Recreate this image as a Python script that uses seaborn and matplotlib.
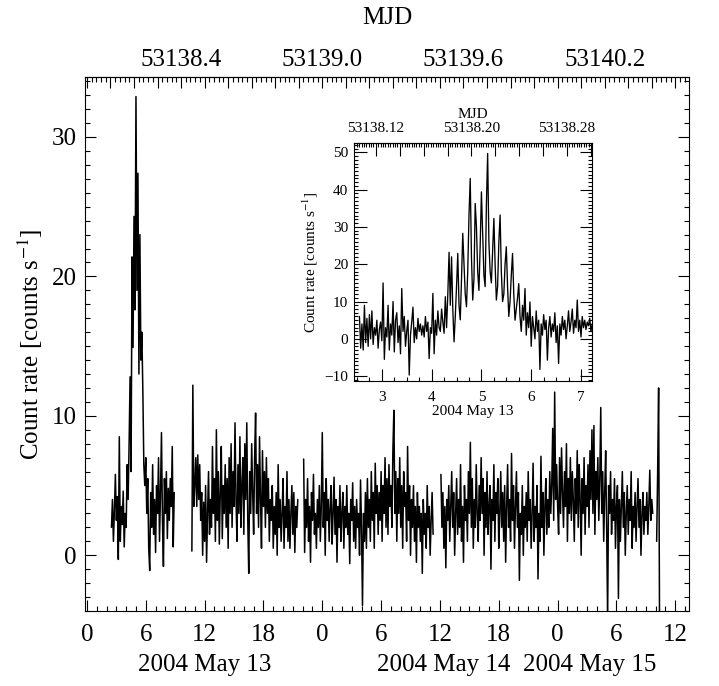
import numpy as np
import pandas as pd
import matplotlib
matplotlib.use("Agg")
import matplotlib.pyplot as plt
import seaborn as sns
from matplotlib.ticker import MultipleLocator, FuncFormatter

# ---------------- data (hours since 2004 May 13 00:00 UT) ----------------
MJD0 = 53138.0
STEP_MAIN = 0.1

seg_starts = [2.5, 10.7, 22.1, 36.1, 58.1]

seg1_rate = [2.0, 4.0, 1.0, 3.2, 5.8, 2.5, 4.2, -0.3, 8.5, 1.0,
             3.5, 2.2, 4.6, 0.6, 3.0, 2.0, 6.5, 4.0, 8.0, 12.8,
             6.0, 21.4, 14.9, 24.3, 17.6, 32.9, 19.0, 27.4, 13.0, 23.0,
             14.0, 16.0, 11.8, 6.5, 5.0, 7.0, 3.0, 5.5, 0.5, -1.1,
             4.5, 2.0, 6.5, 1.5, 4.0, 0.2, 5.0, 3.0, 7.0, 1.0,
             4.5, 8.8, 2.5, -0.8, 5.5, 3.0, 6.0, 1.2, 4.8, 2.5,
             5.5, 3.5, 7.8, 0.6, 4.5]

seg2_rate = [0.3, 12.2, 3.5, 5.0, 7.0, 3.5, 7.2, 4.0, 6.5, 2.5,
             4.5, 0.0, 3.8, 1.0, 5.0, -0.5, 3.0, 6.0, 1.5, 4.0,
             2.0, 7.8, 3.0, 5.5, 1.0, 9.0, 2.5, 6.0, 0.8, 4.5,
             7.8, 1.2, 5.0, 3.0, 6.5, 2.0, 5.5, 0.5, 7.0, 3.0,
             8.0, 2.0, 6.0, 3.5, 9.5, 4.0, 1.0, 6.5, 3.0, 8.5,
             2.0, 5.0, 7.0, 1.5, 8.0, 4.0, 9.5, 2.5, -1.3, 6.0,
             3.0, 8.0, 4.5, 1.5, 7.0, 10.2, 3.0, 6.5, 2.0, 8.5,
             4.0, 0.5, 7.5, 3.5, 6.0, 2.0, 7.0, 3.0, 5.5, 1.0,
             4.0, 2.5, 5.0, 0.5, 3.5, 1.5, 4.5, 0.0, 6.5, 2.0,
             4.0, 1.0, 3.0, 5.5, 0.5, 3.5, 2.0, 6.0, 1.0, 4.0,
             0.5, 3.0, 5.0, 1.5, 4.5, 0.2, 3.5, 2.0, 4.0]

seg3_rate = [6.9, 0.2, 4.0, 2.0, 5.5, 1.0, 3.5, -0.5, 4.5, 2.5,
             5.8, 1.5, 3.0, 0.5, 4.0, 2.0, 5.0, 1.0, 3.5, 8.8,
             2.0, 4.5, 0.0, 5.5, 2.5, 4.0, 1.0, 3.5, 5.0, 0.8,
             3.0, 5.6, 1.5, 4.0, -0.5, 3.5, 2.0, 5.0, 1.0, 3.0,
             4.5, 0.5, 3.5, 2.0, 5.0, 1.5, 3.0, -0.6, 4.0, 2.5,
             5.2, 1.0, 3.5, 0.5, 4.0, 2.0, 3.0, 0.0, 5.4, 2.0,
             -3.6, 3.0, 1.0, 4.5, 0.5, 5.5, 2.0, 4.0, 1.0, 6.0,
             2.5, 4.5, 0.5, 6.6, 3.0, 5.0, 1.5, 4.5, 2.5, 6.0,
             1.0, 5.0, 3.0, 7.0, 2.0, 5.5, 1.5, 6.5, 3.5, 5.0,
             2.0, 7.5, 10.4, 3.0, 6.0, 1.0, 5.5, 3.0, 7.0, 2.0,
             5.0, 0.5, 6.0, 3.5, 4.5, 1.0, 7.8, 2.5, 5.0, 0.0,
             4.0, 2.0, 5.0, 1.0, 3.5, -0.5, 4.5, 2.0, 3.5, 1.0,
             3.0, -1.3, 4.0, 1.5, 3.0, 0.5, 5.0, 2.0, 3.5, 0.0,
             2.5, 4.5, 1.5]

seg4_rate = [5.8, 2.0, 4.5, 0.5, 3.5, -0.9, 4.0, 2.5, 5.0, 1.0,
             3.5, 6.0, 2.0, 4.5, 0.0, 3.0, 5.5, 1.5, 4.0, 2.0,
             6.5, 1.0, 3.5, -0.5, 5.0, 2.5, 4.0, 1.0, 6.0, 3.0,
             8.1, 2.0, 5.5, 0.5, 4.0, 2.0, 6.5, 3.0, 1.0, 5.0,
             2.5, 7.0, 3.0, 5.5, 0.0, 4.5, 2.0, 6.0, 1.5, 3.5,
             5.0, -1.0, 4.0, 2.5, 6.5, 1.0, 4.5, 3.0, 5.5, 0.5,
             3.0, 6.0, 2.0, 4.5, 1.0, 5.0, -0.5, 3.5, 6.5, 2.0,
             4.0, 1.0, 7.3, 2.5, 5.0, 0.5, 3.5, 6.0, 2.0, 4.5,
             -1.8, 3.0, 1.5, 5.0, 0.0, 3.5, 2.0, 4.5, 1.0, 6.0,
             2.5, 4.0, 0.5, 3.0, 6.6, 1.0, 3.5, 2.0, 5.0, -1.7,
             3.0, 1.0, 7.1, 2.0, 4.5, 0.0, 3.5, 5.5, 1.5, 4.0,
             2.0, 6.0, 3.0, 5.0, 9.1, 2.5, 11.7, 4.0, 6.5, 3.5,
             1.5, 7.0, 3.0, 7.7, 4.5, 2.0, 6.0, 3.5, 8.0, 1.0,
             5.5, 3.0, 7.0, 2.5, 6.0, 4.0, 1.0, 5.5, 3.0, 7.5,
             2.0, 6.5, 4.0, 0.0, 5.5, 3.0, 7.0, 1.5, 5.0, 3.5,
             6.5, 2.0, 7.5, 4.0, 9.0, 3.0, 9.3, 1.5, 6.0, 4.0,
             7.0, 2.5, 5.5, 10.6, 3.0, 6.0, 1.0, 4.5, 7.5, 2.0,
             -4.5, 5.0, 3.0, 6.0, 1.5, 4.0, 2.5, 5.5, 0.5, 3.5,
             5.0, -3.1, 4.0, 1.0, 3.5, 6.0, 2.0, 4.5, 0.0, 3.0,
             5.0, 1.5, 4.0, 2.5, 6.0, 0.5, 3.5, 2.0, 4.5, 1.0,
             3.5, 5.5, 2.0, 4.0, 0.0, 3.0, 4.5, 1.5, 3.5, 2.5,
             4.5, 1.5, 3.5, 6.1, 2.5, 4.0, 3.0]

seg5_rate = [1.0, 5.9, 12.0, -6.0]

# inset: finer bins
INSET_START = 2.55
STEP_INSET = 0.025
inset_rate = [
    6.0, -2.5, 4.0, -3.0, 9.0, -1.0, 5.5, -2.0, 6.5, 0.0,
    7.5, -1.5, 3.0, 1.0, 5.0, -2.5, 2.5, 4.5, -0.5, 15.0,
    -5.5, 3.0, 0.5, 9.0, -3.0, 4.0, 1.0, 10.0, -3.5, 5.0,
    7.0, -1.0, 3.5, -4.0, 13.5, 2.0, 6.0, -2.0, 2.0, 5.0,
    -9.7, 1.0, 4.5, 8.5, -1.0, 3.0, 0.0, 5.5, 2.0, 4.0,
    1.0, 3.5, 0.5, 6.0, 2.0, 4.5, -5.3, 3.0, 1.5, 12.2,
    -4.0, 5.0, 1.0, 7.5, 3.0, 2.0, 8.0, 4.5, 1.5, 11.3,
    3.0, 12.0, 23.2, 9.0, 22.0, 8.0, -0.8, 6.0, 14.0, 22.9,
    9.0, 5.1, 16.0, 28.3, 20.0, 12.0, 8.6, 18.0, 33.0, 43.0,
    22.0, 10.4, 16.0, 36.3, 30.0, 18.0, 13.0, 25.0, 39.4, 28.0,
    17.0, 14.0, 36.0, 49.7, 26.0, 18.0, 15.0, 24.0, 32.3, 20.0,
    10.4, 14.0, 26.0, 33.2, 18.0, 10.0, 12.0, 20.0, 24.7, 14.0,
    6.0, 10.0, 17.0, 22.9, 12.0, 5.0, 8.0, 11.0, 14.8, 6.0,
    2.0, 9.0, 5.0, 13.5, 1.0, 7.0, 3.0, 9.9, -2.0, 6.0,
    3.0, 0.0, 7.5, 2.0, 5.0, -8.2, 4.0, 1.0, 6.5, 2.5,
    5.0, -5.7, 3.0, 6.0, 0.5, 4.0, 2.0, 7.0, -1.0, 3.5,
    -6.6, 4.0, 1.0, 6.0, 2.5, 5.0, 0.0, 3.5, 7.5, 2.0,
    4.5, 8.0, 1.5, 5.0, 3.0, 10.4, 2.0, 5.0, 0.5, 6.0,
    3.0, 5.0, 2.5, 4.5, 3.5, 5.5, 2.0, 4.0, 3.5]

main_xticks_hours = [0, 6, 12, 18, 24, 30, 36, 42, 48, 54, 60]
main_mjd_labels = [53138.4, 53139.0, 53139.6, 53140.2]
inset_mjd_labels = [53138.12, 53138.20, 53138.28]
date_labels = ["2004 May 13", "2004 May 14", "2004 May 15"]
date_label_hours = [12.0, 36.4, 51.3]

# ---------------- build tables ----------------
segs = [seg1_rate, seg2_rate, seg3_rate, seg4_rate, seg5_rate]
frames = []
for k, (t0, vals) in enumerate(zip(seg_starts, segs)):
    t = t0 + STEP_MAIN * np.arange(len(vals))
    frames.append(pd.DataFrame({"t": t, "rate": vals, "seg": k}))
df_main = pd.concat(frames, ignore_index=True)

df_inset = pd.DataFrame({
    "t": INSET_START + STEP_INSET * np.arange(len(inset_rate)),
    "rate": inset_rate})

# ---------------- style ----------------
sns.set_theme(style="ticks", rc={
    "axes.edgecolor": "black", "xtick.color": "black", "ytick.color": "black",
    "text.color": "black", "axes.labelcolor": "black", "axes.linewidth": 0.8})
plt.rcParams["font.family"] = ["Liberation Serif", "DejaVu Serif"]
plt.rcParams["mathtext.fontset"] = "stix"

h2mjd = lambda h: MJD0 + np.asarray(h) / 24.0
mjd2h = lambda m: (np.asarray(m) - MJD0) * 24.0

fig = plt.figure(figsize=(7.19, 6.86), dpi=100)

# ---------------- main axes ----------------
ax = fig.add_axes([0.1182, 0.1093, 0.8401, 0.7784])
sns.lineplot(data=df_main, x="t", y="rate", units="seg", estimator=None,
             sort=False, color="black", linewidth=1.1, ax=ax)
ax.set_xlim(-0.2, 61.4)
ax.set_ylim(-4.0, 34.3)
ax.xaxis.set_major_locator(plt.FixedLocator(main_xticks_hours))
ax.xaxis.set_minor_locator(MultipleLocator(1))
ax.xaxis.set_major_formatter(FuncFormatter(lambda v, p: f"{int(round(v)) % 24}"))
ax.yaxis.set_major_locator(MultipleLocator(10))
ax.yaxis.set_minor_locator(MultipleLocator(1))
ax.tick_params(which="both", direction="in", top=False, right=True,
               width=0.8, labelsize=18)
ax.tick_params(which="major", length=8)
ax.tick_params(which="minor", length=3.6)
ax.tick_params(axis="x", pad=9)
ax.tick_params(axis="y", pad=6)
ax.set_xlabel("")
ax.set_ylabel("Count rate [counts s$^{-1}$]", fontsize=18, labelpad=5)
for lab, hx in zip(date_labels, date_label_hours):
    ax.text(hx, -0.101, lab, transform=ax.get_xaxis_transform(),
            ha="center", va="center", fontsize=18)

sec = ax.secondary_xaxis("top", functions=(h2mjd, mjd2h))
sec.xaxis.set_major_locator(MultipleLocator(0.1))
sec.xaxis.set_minor_locator(MultipleLocator(0.02))


def main_mjd_fmt(v, p):
    for m in main_mjd_labels:
        if abs(v - m) < 1e-4:
            return f"{m:.1f}"
    return ""


sec.xaxis.set_major_formatter(FuncFormatter(main_mjd_fmt))
sec.tick_params(which="both", direction="in", width=0.8, labelsize=18, pad=4)
sec.tick_params(which="major", length=8)
sec.tick_params(which="minor", length=3.6)
sec.set_xlabel("MJD", fontsize=18, labelpad=18)

# ---------------- inset ----------------
axin = fig.add_axes([0.4923, 0.4446, 0.3310, 0.3469])
axin.set_facecolor("white")
sns.lineplot(data=df_inset, x="t", y="rate", estimator=None, sort=False,
             color="black", linewidth=0.95, ax=axin)
axin.set_xlim(2.44, 7.22)
axin.set_ylim(-11.3, 52.5)
axin.xaxis.set_major_locator(MultipleLocator(1))
axin.xaxis.set_minor_locator(MultipleLocator(0.25))
axin.yaxis.set_major_locator(MultipleLocator(10))
axin.yaxis.set_minor_locator(MultipleLocator(1))
axin.yaxis.set_major_formatter(FuncFormatter(lambda v, p: f"{int(round(v))}".replace("-", "\u2212")))
axin.tick_params(which="both", direction="in", top=False, right=True,
                 width=0.8, labelsize=11)
axin.tick_params(which="major", length=9)
axin.tick_params(which="minor", length=3)
axin.tick_params(axis="x", pad=7)
axin.tick_params(axis="y", pad=4)
axin.set_xlabel("2004 May 13", fontsize=11, labelpad=1)
axin.set_ylabel("Count rate [counts s$^{-1}$]", fontsize=11, labelpad=3)

secin = axin.secondary_xaxis("top", functions=(h2mjd, mjd2h))
secin.xaxis.set_major_locator(MultipleLocator(0.02))
secin.xaxis.set_minor_locator(MultipleLocator(0.002))


def inset_mjd_fmt(v, p):
    for m in inset_mjd_labels:
        if abs(v - m) < 1e-5:
            return f"{m:.2f}"
    return ""


secin.xaxis.set_major_formatter(FuncFormatter(inset_mjd_fmt))
secin.tick_params(which="both", direction="in", width=0.8, labelsize=11, pad=6)
secin.tick_params(which="major", length=9)
secin.tick_params(which="minor", length=3)
secin.set_xlabel("MJD", fontsize=11, labelpad=3)

fig.savefig("out.png", dpi=100)
